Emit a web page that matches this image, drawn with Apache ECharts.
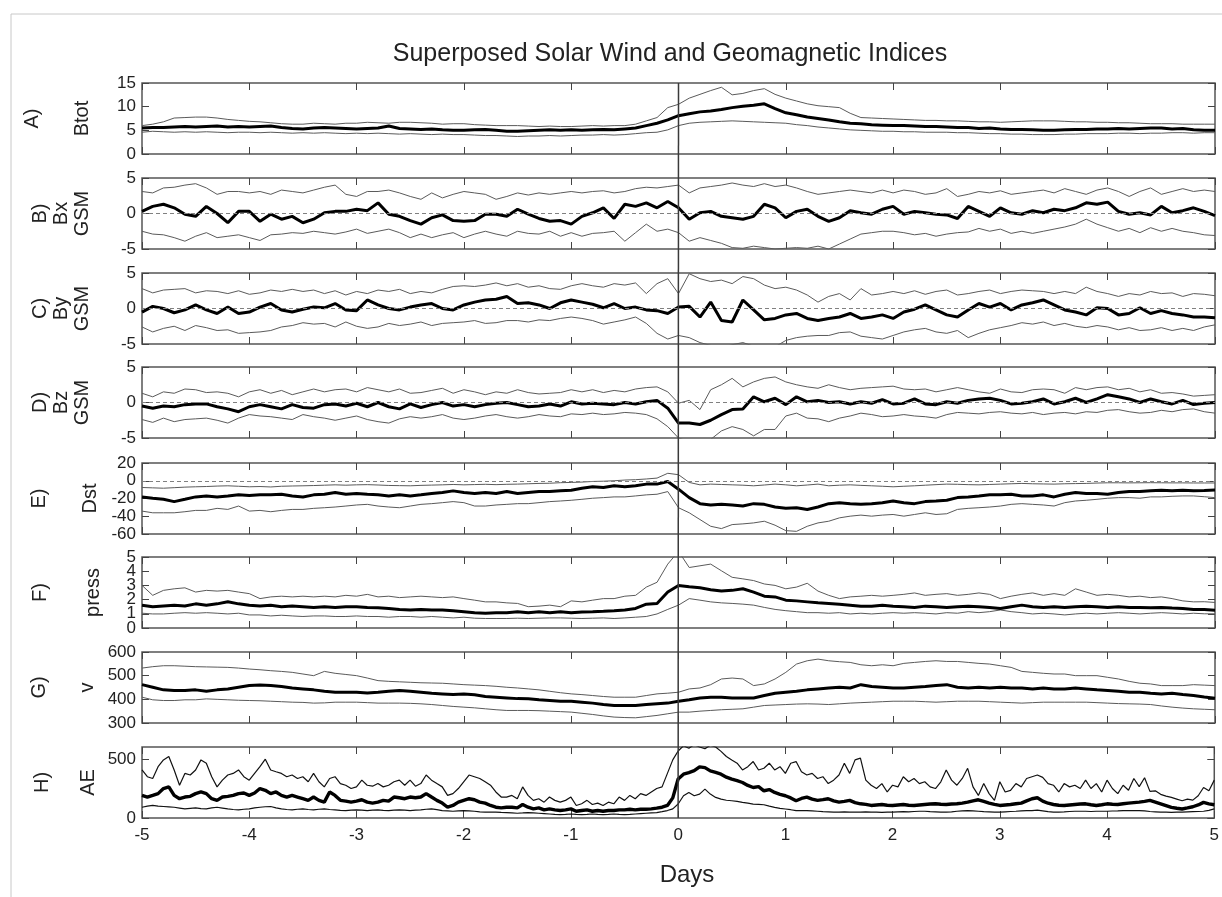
<!DOCTYPE html>
<html><head><meta charset="utf-8">
<script src="https://cdn.jsdelivr.net/npm/echarts/dist/echarts.min.js"></script>
<style>html,body{margin:0;padding:0;background:#fff}#c{width:1222px;height:897px}</style>
</head><body><div id="c"></div>
<script>
// day grids (0.1 day for A-G, 0.05 day for AE)
const days = []; for (let i = 0; i <= 100; i++) days.push(Math.round((-5 + i * 0.1) * 100) / 100);
const daysAE = []; for (let i = 0; i <= 200; i++) daysAE.push(Math.round((-5 + i * 0.05) * 100) / 100);
const pressTicks = [0, 1, 2, 3, 4, 5];

// A) Btot
const btotMean = [5.5,5.6,5.6,5.7,5.8,5.7,5.8,5.9,5.7,5.8, 5.7,5.8,5.9,5.6,5.4,5.3,5.5,5.6,5.5,5.4, 5.3,5.4,5.5,5.9,5.4,5.3,5.2,5.3,5.1,5.0, 5.0,5.1,5.2,5.0,4.8,4.8,4.9,5.0,5.1,5.0, 5.1,5.0,5.1,5.2,5.1,5.3,5.5,6.0,6.5,7.2, 8.1,8.5,8.9,9.1,9.4,9.8,10.1,10.3,10.6,9.6, 8.7,8.3,7.8,7.5,7.2,6.8,6.5,6.4,6.2,6.1, 6.0,6.0,5.9,5.8,5.8,5.7,5.6,5.6,5.4,5.5, 5.3,5.2,5.2,5.1,5.0,5.0,5.1,5.2,5.2,5.3, 5.3,5.4,5.3,5.4,5.5,5.5,5.3,5.4,5.1,5.0, 5.0];
const btotUpper = [6.0,6.3,6.8,7.6,7.7,7.8,7.8,7.6,7.3,7.1, 6.9,6.8,6.6,6.4,6.3,6.3,6.5,6.4,6.3,6.5, 6.5,6.7,6.6,6.5,6.7,6.7,6.6,6.5,6.3,6.4, 6.4,6.2,6.1,6.0,6.0,6.0,5.9,5.8,5.9,5.8, 5.8,5.9,6.0,5.9,6.0,6.0,6.3,7.0,7.7,9.8, 10.5,11.8,12.6,13.4,14.1,12.5,12.8,13.4,13.8,12.6, 11.8,11.2,10.6,10.2,10.0,9.8,8.6,7.7,7.6,7.5, 7.4,7.3,7.2,7.1,7.1,7.0,7.0,6.9,6.8,6.8, 6.7,6.8,6.9,7.0,7.0,7.0,6.9,6.8,6.8,6.7, 6.7,6.6,6.6,6.5,6.4,6.4,6.4,6.3,6.3,6.3, 6.3];
const btotLower = [4.6,4.8,4.7,4.6,4.7,4.6,4.7,4.6,4.5,4.6, 4.6,4.5,4.6,4.5,4.4,4.5,4.4,4.5,4.4,4.3, 4.4,4.3,4.4,4.3,4.2,4.3,4.2,4.1,4.2,4.1, 4.1,4.0,3.9,3.9,3.8,3.7,3.8,3.8,3.9,3.8, 3.9,4.0,4.0,4.1,4.0,4.1,4.3,4.5,4.6,5.1, 6.0,6.5,6.7,6.8,6.9,7.0,6.9,6.8,6.7,6.6, 6.5,6.2,6.0,5.7,5.5,5.3,5.1,5.0,4.9,4.8, 4.8,4.7,4.7,4.6,4.6,4.6,4.5,4.5,4.4,4.3, 4.3,4.2,4.2,4.1,4.1,4.1,4.2,4.2,4.3,4.3, 4.3,4.4,4.4,4.3,4.4,4.4,4.5,4.5,4.4,4.5, 4.5];

// B) Bx GSM
const bxMean = [0.3,1.0,1.3,0.8,-0.1,-0.4,1.0,0,-1.3,0.3, 0.3,-1.1,-0.1,-0.8,-0.4,-1.3,-0.8,0.1,0.3,0.3, 0.6,0.4,1.5,-0.1,-0.4,-1.0,-1.5,-0.6,-0.2,-1.0, -1.1,-1.0,-0.1,-0.1,-0.4,0.6,-0.1,-0.7,-1.1,-1.0, -1.5,-0.4,0.1,0.8,-0.7,1.3,1.0,1.5,0.8,1.7, 0.8,-0.8,0.1,0.3,-0.4,-0.6,-0.8,-0.4,1.3,0.8, -0.6,0.3,0.6,-0.4,-1.1,-0.6,0.4,0.1,-0.1,0.6, 1.0,-0.1,0.3,0.1,-0.1,-0.2,-0.7,1.0,0.3,-0.4, 0.8,0.1,-0.1,0.4,0.1,0.6,0.4,0.8,1.5,1.3, 1.6,0.3,-0.1,0.1,-0.2,1.0,0.1,0.4,0.8,0.3, -0.3];
const bxUpper = [3.1,2.9,3.6,3.7,4.0,4.2,3.6,2.7,3.1,3.1, 2.9,3.1,2.7,3.3,3.1,2.9,3.3,3.7,4.0,2.7, 2.4,3.1,3.1,3.3,2.9,2.4,2.0,2.9,2.2,2.7, 3.1,2.9,2.7,2.0,2.4,2.9,2.6,2.9,2.7,2.9, 3.1,2.9,3.1,3.2,2.9,3.1,3.5,3.7,3.6,3.8, 4.0,2.9,3.6,3.8,4.0,4.3,4.0,3.8,4.2,3.8, 4.0,3.6,3.1,2.7,2.9,3.1,3.3,3.1,2.9,3.3, 2.9,3.3,3.1,2.7,2.9,3.5,2.4,2.7,3.1,2.9, 3.2,2.7,2.9,3.1,3.3,2.9,3.5,3.1,2.7,3.3, 3.6,3.1,2.4,3.1,3.6,2.7,3.1,3.5,3.1,3.3, 3.1];
const bxLower = [-2.5,-2.9,-3.0,-3.4,-3.9,-3.2,-2.7,-3.4,-3.2,-3.0, -3.4,-3.8,-3.0,-2.9,-2.7,-2.8,-2.5,-2.7,-2.9,-2.6, -2.2,-2.8,-2.5,-2.2,-2.7,-3.4,-2.9,-3.4,-3.0,-2.7, -3.4,-2.9,-2.5,-2.9,-3.2,-2.5,-2.8,-2.9,-2.5,-3.2, -2.7,-3.2,-2.8,-2.7,-2.5,-3.9,-2.7,-1.5,-2.5,-2.2, -2.7,-3.9,-3.4,-3.8,-4.2,-4.8,-4.9,-4.6,-4.8,-5.0, -4.9,-4.8,-4.9,-4.6,-5.0,-4.3,-3.6,-2.9,-2.7,-2.5, -2.5,-2.7,-3.0,-2.8,-3.2,-2.9,-2.7,-2.6,-2.1,-2.5, -2.2,-2.8,-2.5,-2.8,-2.5,-2.2,-1.9,-1.5,-0.8,-1.5, -2.0,-2.5,-2.1,-2.7,-2.0,-2.5,-2.1,-2.5,-2.7,-3.0, -3.1];

// C) By GSM
const byMean = [-0.5,0.3,0,-0.6,-0.2,0.5,-0.2,-0.7,0.2,-0.7, -0.5,0.2,0.7,-0.2,-0.5,-0.1,0.2,0.1,0.7,-0.2, -0.3,1.2,0.5,0,-0.2,0.2,0.5,0.7,0,-0.2, 0.5,0.9,1.2,1.3,1.7,0.7,0.8,0.5,0,0.8, 1.2,0.9,0.6,0.1,0.7,0,0.2,-0.2,-0.3,-0.7, 0.2,0.3,-1.2,0.9,-1.7,-1.9,1.2,-0.2,-1.6,-1.4, -0.9,-0.7,-1.4,-1.7,-1.4,-1.2,-0.7,-1.4,-1.2,-0.9, -1.4,-0.5,-0.1,0.5,-0.2,-0.9,-1.2,-0.2,0.7,0.2, 0.7,-0.2,0.5,0.8,1.2,0.5,-0.2,-0.5,-0.9,0.1, 0,-0.9,-0.7,0.1,-0.7,-0.3,-0.7,-0.9,-1.2,-1.2, -1.3];
const byUpper = [2.8,2.2,2.6,2.7,2.8,2.2,2.5,2.4,2.1,2.5, 2.0,2.2,2.6,2.4,2.7,2.4,2.6,2.1,2.5,1.9, 2.4,2.1,2.6,2.4,2.7,2.1,2.4,2.2,2.7,3.1, 3.2,3.1,3.3,3.6,3.2,3.5,3.0,3.2,2.8,2.7, 3.2,3.5,3.2,3.0,3.5,3.3,3.6,2.1,3.5,4.2, 2.1,4.9,4.2,3.8,4.0,3.5,4.5,4.2,3.3,2.8, 3.0,2.6,1.9,0.9,1.7,2.1,1.2,2.8,1.9,2.1, 2.4,2.1,2.5,2.0,2.4,2.6,1.9,2.1,2.4,2.6, 2.1,2.4,2.6,2.5,2.4,2.1,2.4,2.1,3.0,2.4, 2.1,1.7,2.1,1.9,2.4,2.1,2.2,1.7,2.1,2.0, 1.8];
const byLower = [-2.6,-3.3,-2.8,-2.5,-3.1,-2.4,-2.7,-3.1,-3.0,-3.5, -3.4,-3.3,-3.1,-2.6,-2.4,-2.0,-2.2,-2.1,-2.6,-1.9, -2.5,-2.8,-2.6,-2.1,-2.4,-2.2,-1.9,-2.4,-2.1,-2.0, -1.9,-1.7,-2.1,-2.0,-1.7,-1.7,-1.9,-1.6,-1.7,-1.4, -1.2,-1.4,-1.7,-2.2,-1.9,-1.6,-1.2,-2.1,-3.5,-4.3, -3.8,-4.1,-4.8,-5.2,-5.5,-5.1,-4.8,-5.3,-5.5,-5.4, -4.5,-4.1,-3.9,-3.8,-3.8,-3.4,-3.3,-3.9,-4.1,-4.3, -3.8,-3.3,-3.0,-2.8,-3.3,-3.5,-3.1,-4.1,-3.5,-3.0, -2.7,-2.4,-2.0,-2.2,-1.9,-2.4,-2.1,-2.5,-2.7,-2.4, -2.6,-3.0,-2.7,-3.1,-3.0,-2.7,-3.1,-2.8,-3.1,-2.6, -2.3];

// D) Bz GSM
const bzMean = [-0.5,-0.8,-0.5,-0.6,-0.3,-0.2,-0.2,-0.6,-0.9,-1.3, -0.6,-0.3,-0.6,-0.9,-0.3,-0.7,-0.8,-0.3,-0.2,-0.5, -0.1,-0.6,0,-0.6,-0.9,-0.2,-0.7,-0.3,0,-0.5, -0.3,-0.6,-0.3,-0.1,0,-0.3,-0.6,-0.5,-0.2,-0.5, 0.1,-0.2,-0.1,-0.2,-0.3,0,-0.2,0.1,0.3,-0.8, -2.9,-2.9,-3.1,-2.5,-1.7,-1.0,-0.9,0.8,0.1,0.6, -0.3,0.8,0.1,0.3,0,0.1,-0.2,0.1,-0.1,0.4, -0.2,-0.1,0.5,-0.2,-0.3,0.1,-0.1,0.3,0.5,0.6, 0.3,-0.2,-0.1,0.1,0.5,-0.2,0.1,0.6,0,0.5, 1.1,0.8,0.5,0,0.5,0.1,-0.2,0.3,-0.3,-0.1, 0.0];
const bzUpper = [1.3,0.8,1.5,1.3,1.9,1.8,1.4,1.5,1.3,0.8, 1.5,1.8,1.3,1.7,1.1,1.5,1.9,1.5,1.8,1.9, 1.5,2.1,1.8,1.5,1.9,1.3,1.4,1.7,2.0,1.3, 1.8,1.5,1.1,1.5,1.3,1.8,1.4,1.2,1.3,1.4, 1.8,1.5,1.8,1.4,1.7,1.5,1.9,2.1,2.2,1.5, -0.1,0.3,-1.0,1.8,2.5,3.4,2.2,2.9,3.4,3.6, 2.9,2.5,2.2,2.0,2.5,2.1,1.8,2.0,2.1,2.2, 2.3,1.9,1.8,1.9,1.5,1.8,2.1,1.8,1.5,1.3, 1.9,1.5,1.4,1.8,1.9,1.8,1.3,2.1,1.8,2.1, 2.2,1.8,2.0,1.5,1.8,1.3,1.4,1.2,0.9,1.0, 1.1];
const bzLower = [-2.4,-2.8,-2.2,-2.7,-2.4,-2.3,-2.2,-2.5,-2.9,-2.2, -1.7,-1.9,-2.0,-2.2,-2.4,-1.7,-2.0,-2.2,-2.5,-2.2, -1.9,-2.4,-2.7,-2.9,-2.3,-2.0,-2.2,-2.0,-1.7,-2.2, -2.4,-2.2,-1.9,-1.7,-2.0,-2.2,-2.0,-1.7,-1.9,-2.0, -1.6,-1.7,-1.5,-1.7,-1.6,-1.4,-1.5,-1.7,-2.3,-3.4, -5.0,-5.5,-5.8,-5.2,-4.0,-3.4,-3.8,-4.7,-3.8,-3.8, -1.9,-1.5,-2.2,-2.3,-2.7,-2.2,-1.9,-1.5,-1.7,-2.0, -1.9,-1.7,-1.9,-2.0,-2.2,-1.7,-1.4,-1.5,-1.6,-1.4, -1.3,-1.5,-1.6,-1.4,-1.7,-1.5,-1.4,-1.6,-1.3,-1.4, -1.1,-1.0,-1.3,-1.5,-1.4,-1.1,-1.3,-1.0,-0.9,-1.3, -1.5];

// E) Dst
const dstMean = [-18.2,-19.7,-20.9,-23.5,-20.9,-18.2,-17.1,-18.2,-17.1,-15.9, -16.7,-15.9,-15.9,-15.2,-17.1,-18.2,-15.9,-15.2,-13.3,-15.2, -14.4,-15.2,-15.9,-17.1,-15.9,-17.1,-15.9,-14.4,-13.3,-11.4, -13.3,-14.4,-13.3,-14.4,-12.2,-14.4,-13.3,-12.2,-12.2,-11.4, -10.6,-8.4,-6.8,-7.6,-5.7,-6.8,-5.7,-3.8,-3.8,-0.8, -9.5,-19.0,-25.8,-27.3,-26.6,-27.3,-28.5,-25.8,-26.6,-29.6, -31.1,-30.4,-32.3,-29.6,-25.8,-24.7,-25.8,-26.6,-25.8,-24.7, -22.8,-24.7,-25.8,-23.5,-22.8,-22.0,-19.0,-18.2,-17.1,-15.9, -15.9,-15.2,-17.1,-17.1,-15.9,-18.2,-15.2,-13.3,-14.4,-14.4, -15.2,-13.3,-12.2,-12.2,-11.4,-10.6,-11.4,-10.6,-11.4,-11.0, -10.5];
const dstUpper = [-7.6,-8.0,-8.4,-7.8,-7.2,-6.8,-6.5,-6.0,-5.7,-6.2, -6.8,-6.5,-7.0,-6.2,-5.9,-5.7,-5.4,-5.0,-4.6,-5.0, -4.6,-4.4,-4.8,-5.3,-5.5,-5.7,-5.2,-4.9,-4.6,-4.2, -4.6,-4.3,-4.0,-4.4,-4.0,-3.8,-3.4,-3.0,-2.8,-2.2, -1.9,-1.5,-0.8,-0.5,0.0,0.8,1.2,2.0,3.0,8.4, 6.8,-1.9,-4.6,-3.8,-4.2,-4.6,-5.0,-5.7,-4.8,-3.8, -4.6,-5.7,-4.8,-3.8,-5.7,-5.0,-4.6,-5.2,-5.7,-6.2, -6.8,-6.2,-5.7,-5.0,-4.4,-3.8,-4.0,-4.4,-4.6,-4.2, -3.8,-3.4,-3.0,-3.4,-3.6,-3.8,-3.4,-3.2,-3.0,-2.6, -2.3,-2.3,-2.4,-2.3,-2.2,-2.3,-2.4,-2.4,-2.5,-2.5, -2.5];
const dstLower = [-34.2,-36.1,-36.1,-36.1,-34.9,-33.4,-33.4,-31.1,-32.3,-28.5, -34.2,-33.4,-34.9,-33.4,-32.3,-32.3,-31.1,-30.4,-29.6,-28.5, -27.3,-26.6,-28.5,-29.6,-30.4,-28.5,-26.6,-25.8,-24.7,-23.5, -24.7,-28.5,-28.5,-27.3,-26.6,-25.8,-25.8,-24.7,-23.5,-22.8, -22.0,-20.9,-19.7,-19.0,-18.2,-18.2,-17.1,-15.9,-15.2,-12.2, -30.4,-36.1,-43.7,-51.3,-53.9,-49.4,-48.6,-47.5,-45.6,-50.1, -56.2,-57.0,-51.3,-47.5,-45.6,-41.8,-39.9,-38.7,-39.9,-38.7, -38.0,-39.9,-38.0,-36.1,-38.0,-37.2,-32.3,-31.1,-30.4,-29.6, -28.5,-26.6,-25.8,-26.6,-27.3,-28.5,-24.7,-22.8,-22.0,-20.9, -19.7,-19.0,-19.0,-19.7,-18.2,-18.2,-17.5,-17.1,-17.1,-18.0, -19.0];

// F) press
const pressMean = [1.6,1.5,1.55,1.6,1.55,1.7,1.6,1.7,1.85,1.7, 1.6,1.55,1.6,1.5,1.55,1.5,1.45,1.5,1.45,1.5, 1.5,1.45,1.43,1.38,1.31,1.27,1.31,1.27,1.27,1.22, 1.15,1.08,1.04,1.08,1.08,1.15,1.08,1.15,1.08,1.15, 1.08,1.13,1.15,1.18,1.22,1.27,1.38,1.68,1.73,2.53, 3.0,2.9,2.83,2.7,2.6,2.65,2.76,2.53,2.24,2.19, 1.96,1.91,1.84,1.77,1.73,1.68,1.61,1.54,1.54,1.61, 1.54,1.5,1.45,1.54,1.5,1.45,1.5,1.54,1.5,1.45, 1.38,1.5,1.61,1.5,1.45,1.5,1.45,1.5,1.54,1.5, 1.45,1.5,1.45,1.45,1.43,1.45,1.4,1.38,1.31,1.3, 1.25];
const pressUpper = [3.0,2.3,2.65,2.76,2.83,2.53,2.65,2.6,2.65,2.53, 2.42,2.07,2.19,2.24,2.19,2.24,2.19,2.24,2.19,2.3, 2.24,2.37,2.19,2.24,2.14,2.19,2.24,2.19,2.14,2.19, 2.07,1.96,1.84,1.84,1.77,1.73,1.5,1.54,1.61,1.5, 1.91,1.84,1.96,2.07,2.07,2.24,2.3,2.88,3.22,4.5, 5.4,4.26,4.38,4.5,4.03,3.57,3.46,3.34,3.1,3.0, 2.76,2.88,3.15,2.6,2.3,2.07,2.19,2.24,2.3,2.24, 2.3,2.37,2.47,2.3,2.37,2.42,2.3,2.37,2.47,2.37, 2.07,2.24,2.37,2.47,2.3,2.42,2.3,2.76,2.53,2.3, 2.37,2.3,2.19,2.24,2.14,2.19,2.07,1.91,1.84,1.85, 1.8];
const pressLower = [1.04,0.99,0.99,1.04,1.08,1.04,1.08,1.04,0.99,1.04, 0.92,0.92,0.85,0.9,0.85,0.81,0.85,0.85,0.81,0.81, 0.85,0.81,0.81,0.76,0.81,0.81,0.76,0.81,0.76,0.71, 0.76,0.69,0.67,0.67,0.67,0.69,0.67,0.69,0.71,0.71, 0.69,0.67,0.69,0.71,0.67,0.71,0.76,0.81,0.99,1.31, 1.61,2.07,1.96,1.84,1.77,1.73,1.68,1.61,1.45,1.31, 1.22,1.15,1.08,1.08,1.04,1.08,0.99,1.04,0.99,1.04, 1.08,1.04,1.08,1.04,0.99,1.08,1.04,1.15,1.08,1.15, 1.27,1.15,1.08,0.99,1.04,0.99,0.92,0.99,1.04,0.99, 1.04,1.08,1.04,0.99,1.04,1.08,1.04,0.99,1.04,1.0, 1.0];

// G) v
const vMean = [462,451,440,437,437,440,434,440,444,451, 458,461,458,454,448,444,440,434,430,430, 430,427,430,434,437,434,430,426,423,420, 423,419,412,409,406,403,402,398,395,392, 392,388,384,378,374,374,374,378,381,384, 392,398,406,409,409,406,406,406,416,426, 430,434,440,444,448,451,448,462,454,451, 448,448,451,454,458,462,451,448,451,448, 451,448,448,444,448,444,444,448,444,440, 437,434,430,430,426,423,426,420,416,410, 405];
const vUpper = [532,538,542,542,540,538,537,536,535,532, 528,525,521,518,514,507,500,518,510,505, 500,490,479,476,474,472,470,469,468,465, 462,460,458,455,451,448,444,440,434,428, 423,420,416,412,409,409,409,416,423,426, 430,444,448,462,486,490,486,458,465,486, 514,549,563,570,563,559,556,546,542,546, 542,552,556,560,563,560,560,556,552,549, 542,535,518,514,510,507,507,500,500,500, 493,486,476,468,465,458,458,458,462,460, 458];
const vLower = [409,398,395,395,398,398,402,400,398,396, 395,394,392,390,388,387,384,385,388,388, 388,386,384,384,384,383,381,378,374,370, 367,364,360,356,353,353,353,352,350,348, 346,341,336,330,325,323,322,327,332,339, 346,346,350,353,356,358,360,367,374,376, 378,380,381,380,378,381,384,386,388,390, 392,392,392,390,388,390,392,392,392,390, 388,386,384,386,388,388,388,388,388,386, 384,382,381,380,378,372,367,363,360,358, 356];

// H) AE (0.05 day)
const aeUpper = [406,349,334,434,491,520,406,277,377,363, 406,491,463,349,263,320,363,377,406,349, 320,377,434,497,406,391,377,349,363,334, 349,306,377,306,263,334,349,291,277,249, 263,320,277,269,291,263,277,306,320,277, 320,269,291,363,320,291,263,191,206,249, 306,363,349,334,306,277,220,177,177,191, 163,263,191,149,163,134,177,149,134,149, 177,106,120,149,114,126,106,134,120,177, 149,191,163,206,191,220,249,263,377,491, 566,610,590,620,600,585,615,600,563,520, 491,463,406,434,477,406,420,463,406,434, 377,463,477,391,363,377,334,349,291,320, 363,463,377,491,506,320,277,249,291,220, 277,263,349,306,334,291,306,263,249,306, 406,320,277,334,420,263,191,291,206,149, 306,220,234,291,263,334,349,363,343,291, 277,220,291,263,277,249,320,249,291,220, 320,249,206,277,234,334,265,340,225,230, 200,185,174,160,146,160,151,188,258,230, 320];
const aeMean = [191,177,191,206,249,263,191,163,177,183, 206,220,206,163,149,177,183,191,206,211, 191,211,249,234,206,220,191,177,191,177, 163,149,177,149,134,220,191,149,143,134, 143,154,134,126,134,149,143,177,171,163, 177,171,177,206,177,149,126,91,106,134, 149,163,154,134,126,106,91,86,91,91, 86,114,91,77,86,69,77,69,63,69, 77,57,63,69,57,63,57,63,63,69, 69,74,69,74,74,77,83,91,106,170, 330,370,384,400,432,426,398,385,370,345, 328,315,300,275,258,265,230,240,216,200, 188,170,146,165,177,160,149,155,163,145, 134,140,149,130,120,115,106,110,114,108, 106,110,114,108,106,110,114,118,120,116, 114,118,120,126,134,145,154,140,126,115, 106,110,114,120,126,145,163,171,143,125, 114,108,106,110,114,118,120,112,106,112, 120,116,114,120,126,130,134,140,149,135, 120,105,90,82,76,85,95,110,132,120, 112];
const aeLower = [91,100,106,100,97,94,91,84,77,82, 86,80,77,85,91,84,77,72,69,74, 77,85,91,95,97,86,77,72,69,74, 77,72,69,74,77,72,69,65,63,66, 69,66,63,66,69,65,63,66,69,66, 63,66,69,74,77,70,63,60,57,60, 63,60,57,52,49,49,49,47,46,43, 40,43,46,43,40,37,34,31,29,31, 34,31,29,31,34,31,29,31,34,31, 29,31,34,37,40,43,46,54,63,77, 118,188,216,188,202,244,202,174,160,150, 146,140,132,125,118,115,112,100,90,82, 76,70,62,62,63,60,57,54,52,50, 49,52,50,49,49,52,50,49,47,49, 49,52,54,52,55,57,57,54,52,50, 49,52,57,60,63,60,57,54,52,50, 49,52,55,57,60,62,63,66,60,54, 49,50,52,55,57,57,57,55,57,57, 57,59,60,62,63,63,63,60,55,52, 49,49,48,49,49,52,54,55,57,65, 77];

const panelNames = [['A)','Btot'],['B)','Bx','GSM'],['C)','By','GSM'],['D)','Bz','GSM'],['E)','Dst'],['F)','press'],['G)','v'],['H)','AE']];

const FONT = "'Liberation Sans', Arial, Helvetica, sans-serif";
const panels = [
  {top:83,  min:0,   max:15,  interval:5,   x:days,   mean:btotMean,  upper:btotUpper,  lower:btotLower,  zero:false, thin:'#5a5a5a', nameX:[32,82]},
  {top:178, min:-5,  max:5,   interval:5,   x:days,   mean:bxMean,    upper:bxUpper,    lower:bxLower,    zero:true,  thin:'#5a5a5a', nameX:[40,61,82]},
  {top:273, min:-5,  max:5,   interval:5,   x:days,   mean:byMean,    upper:byUpper,    lower:byLower,    zero:true,  thin:'#5a5a5a', nameX:[40,61,82]},
  {top:367, min:-5,  max:5,   interval:5,   x:days,   mean:bzMean,    upper:bzUpper,    lower:bzLower,    zero:true,  thin:'#5a5a5a', nameX:[40,61,82]},
  {top:463, min:-60, max:20,  interval:20,  x:days,   mean:dstMean,   upper:dstUpper,   lower:dstLower,   zero:true,  thin:'#5a5a5a', nameX:[39,90]},
  {top:557, min:0,   max:5,   interval:1,   x:days,   mean:pressMean, upper:pressUpper, lower:pressLower, zero:false, thin:'#5a5a5a', nameX:[40,93], ownLabels:pressTicks},
  {top:652, min:300, max:600, interval:100, x:days,   mean:vMean,     upper:vUpper,     lower:vLower,     zero:false, thin:'#5a5a5a', nameX:[39,87]},
  {top:747, min:0,   max:600, interval:500, x:daysAE, mean:aeMean,    upper:aeUpper,    lower:aeLower,    zero:false, thin:'#111',    nameX:[42,88], hideMax:true, meanW:3.4, thinW:1.2}
];
const PH = 71;

const grid = [], xAxis = [], yAxis = [], series = [], graphic = [];
const tick = {show:true, inside:true, length:7, lineStyle:{color:'#444', width:1}};
panels.forEach((p, g) => {
  const last = g === panels.length - 1;
  grid.push({left:142, width:1073, top:p.top, height:PH, show:true, borderColor:'#555', borderWidth:1.5, backgroundColor:'transparent', containLabel:false});
  xAxis.push({type:'value', gridIndex:g, position:'bottom', min:-5, max:5, interval:1,
    axisLine:{show:false, onZero:false}, axisTick:tick, splitLine:{show:false},
    axisLabel:{show:last, fontSize:17, color:'#222', fontFamily:FONT, margin:9}});
  xAxis.push({type:'value', gridIndex:g, position:'top', min:-5, max:5, interval:1,
    axisLine:{show:false, onZero:false}, axisTick:tick, splitLine:{show:false}, axisLabel:{show:false}});
  yAxis.push({type:'value', gridIndex:g, position:'left', min:p.min, max:p.max, interval:p.interval,
    axisLine:{show:false, onZero:false}, axisTick:tick, splitLine:{show:false},
    axisLabel:{show:!p.ownLabels, fontSize:17, color:'#222', fontFamily:FONT, margin:6, showMaxLabel: !p.hideMax, showMinLabel:true, hideOverlap:false}});
  yAxis.push({type:'value', gridIndex:g, position:'right', min:p.min, max:p.max, interval:p.interval,
    axisLine:{show:false, onZero:false}, axisTick:tick, splitLine:{show:false}, axisLabel:{show:false}});
  const ai = 2 * g;
  const pairs = arr => p.x.map((d, i) => [d, arr[i]]);
  const tw = p.thinW || 1, mw = p.meanW || 3;
  const lowerS = {type:'line', xAxisIndex:ai, yAxisIndex:ai, data:pairs(p.lower), symbol:'none', showSymbol:false,
    lineStyle:{color:p.thin, width:tw}, silent:true, z:2, clip:true};
  if (p.zero) lowerS.markLine = {silent:true, symbol:['none','none'], label:{show:false},
    lineStyle:{color:'#808080', type:[4,3], width:1}, data:[{yAxis:0}], animation:false};
  series.push(lowerS);
  series.push({type:'line', xAxisIndex:ai, yAxisIndex:ai, data:pairs(p.upper), symbol:'none', showSymbol:false,
    lineStyle:{color:p.thin, width:tw}, silent:true, z:2, clip:true});
  series.push({type:'line', xAxisIndex:ai, yAxisIndex:ai, data:pairs(p.mean), symbol:'none', showSymbol:false,
    lineStyle:{color:'#000', width:mw}, silent:true, z:3, clip:true});

  const cy = p.top + PH / 2;
  panelNames[g].forEach((t, k) => {
    graphic.push({type:'text', id:'nm'+g+'_'+k, x:p.nameX[k], y:cy, rotation:Math.PI/2,
      style:{text:t, font:"20px " + FONT, fill:'#222', textAlign:'center', textVerticalAlign:'middle', align:'center', verticalAlign:'middle'}, silent:true});
  });
});

graphic.push({type:'rect', id:'frame', shape:{x:11, y:14, width:1240, height:920}, style:{fill:'transparent', stroke:'#c8c8c8', lineWidth:1}, silent:true, z:-10});
graphic.push({type:'text', id:'title', x:670, y:54, style:{text:'Superposed Solar Wind and Geomagnetic Indices', font:"25px " + FONT, fill:'#222', textAlign:'center', textVerticalAlign:'middle', align:'center', verticalAlign:'middle'}, silent:true});
graphic.push({type:'text', id:'xname', x:687, y:875, style:{text:'Days', font:"24px " + FONT, fill:'#222', textAlign:'center', textVerticalAlign:'middle', align:'center', verticalAlign:'middle'}, silent:true});

const chart = echarts.init(document.getElementById('c'));
chart.setOption({animation:false, backgroundColor:'#fff', grid, xAxis, yAxis, series, graphic});

// vertical line at day 0 spanning all panels, and tightly packed tick labels for panel F
const extra = [];
const pTop = chart.convertToPixel({seriesIndex:0}, [0, panels[0].max]);
const pBot = chart.convertToPixel({seriesIndex:series.length - 1}, [0, panels[7].min]);
extra.push({type:'line', id:'vline', shape:{x1:pTop[0], y1:pTop[1], x2:pBot[0], y2:pBot[1]}, style:{stroke:'#3a3a3a', lineWidth:1.5}, silent:true, z:10});
panels.forEach((p, g) => {
  if (!p.ownLabels) return;
  p.ownLabels.forEach((v, k) => {
    const pt = chart.convertToPixel({seriesIndex:3 * g}, [-5, v]);
    extra.push({type:'text', id:'yl'+g+'_'+k, x:pt[0] - 6, y:pt[1], style:{text:String(v), font:"17px " + FONT, fill:'#222', textAlign:'right', textVerticalAlign:'middle', align:'right', verticalAlign:'middle'}, silent:true});
  });
});
chart.setOption({graphic:extra});
</script>
</body></html>
